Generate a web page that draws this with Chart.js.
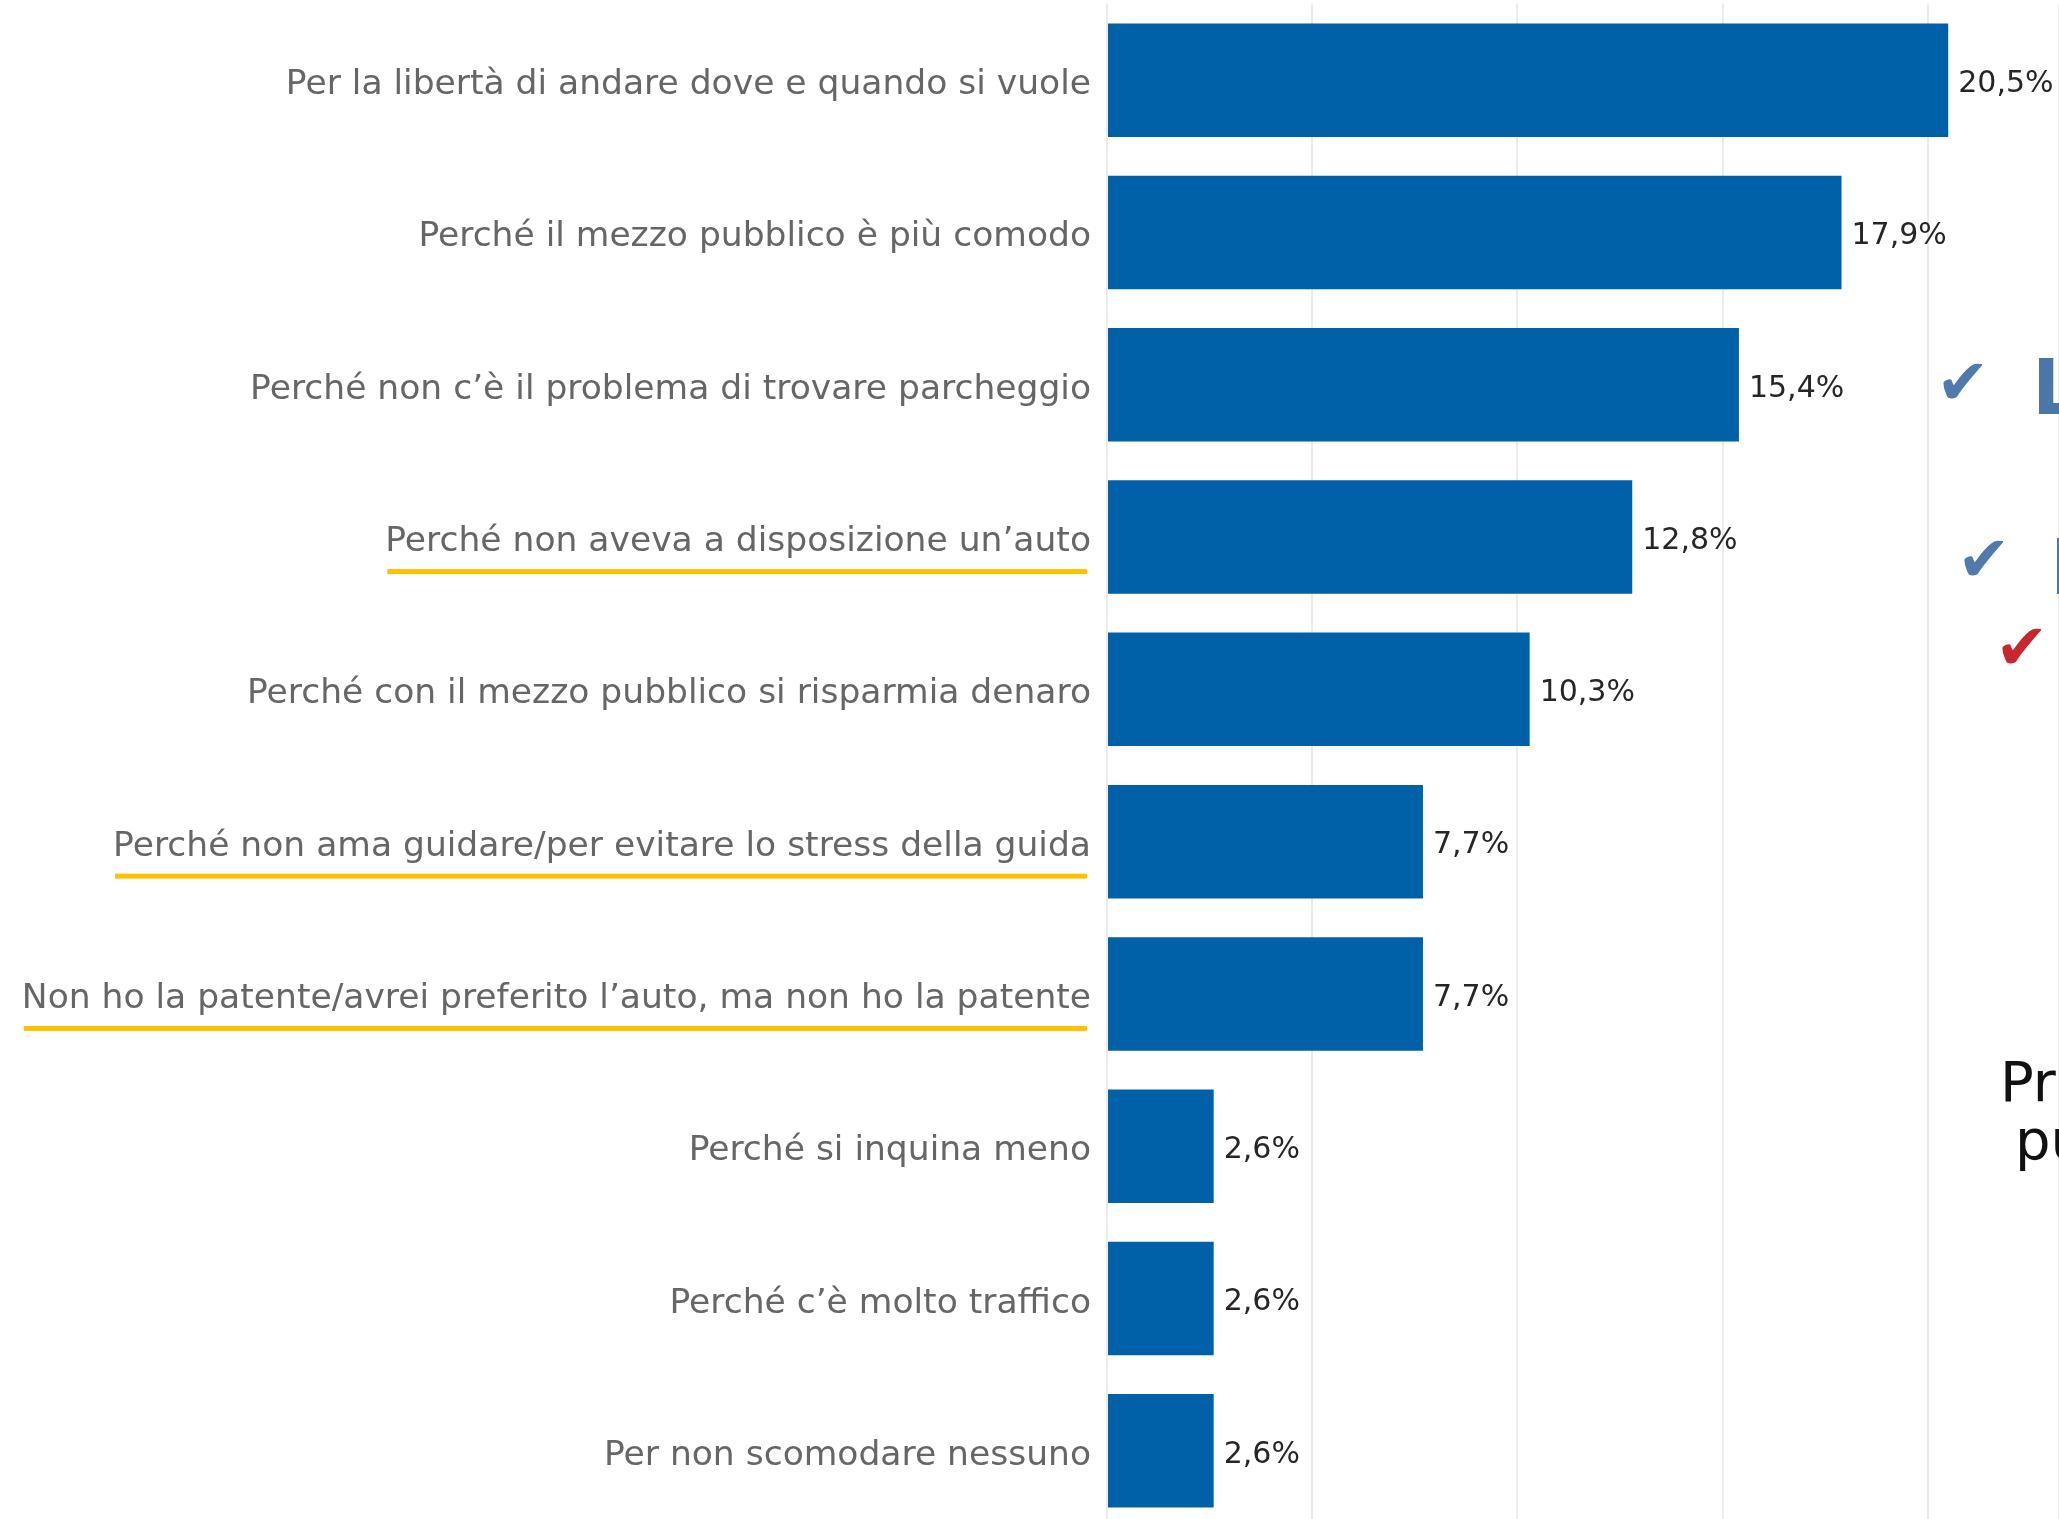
<!DOCTYPE html>
<html>
<head>
<meta charset="utf-8">
<script src="https://cdn.jsdelivr.net/npm/chart.js@4.4.0/dist/chart.umd.min.js"></script>
<style>
  html, body { margin: 0; padding: 0; background: #fff; overflow: hidden; }
  #wrap { position: relative; width: 2059px; height: 1527px; }
  .side { position: absolute; white-space: nowrap; line-height: 1; font-family: 'DejaVu Sans', sans-serif; }
</style>
</head>
<body>
<div id="wrap">
  <canvas id="motivi"></canvas>
  <div class="side" style="left:1936px; top:350px; font-size:64px; color:#4f7aab;">✔</div>
  <div class="side" style="left:2032px; top:350px; font-size:76px; font-weight:bold; color:#4a76a8;">L</div>
  <div class="side" style="left:1957px; top:527px; font-size:64px; color:#4f7aab;">✔</div>
  <div class="side" style="left:2050px; top:530px; font-size:76px; font-weight:bold; color:#4a76a8;">I</div>
  <div class="side" style="left:1995px; top:615px; font-size:64px; color:#c8282d;">✔</div>
  <div class="side" style="left:2000px; top:1054px; font-size:56px; color:#111;">Pri</div>
  <div class="side" style="left:2015px; top:1112px; font-size:56px; color:#111;">pu</div>
</div>
<script>
const categories = [
  'Per la libertà di andare dove e quando si vuole',
  'Perché il mezzo pubblico è più comodo',
  'Perché non c’è il problema di trovare parcheggio',
  'Perché non aveva a disposizione un’auto',
  'Perché con il mezzo pubblico si risparmia denaro',
  'Perché non ama guidare/per evitare lo stress della guida',
  'Non ho la patente/avrei preferito l’auto, ma non ho la patente',
  'Perché si inquina meno',
  'Perché c’è molto traffico',
  'Per non scomodare nessuno'
];
const values = [20.5, 17.9, 15.4, 12.8, 10.3, 7.7, 7.7, 2.6, 2.6, 2.6];
const highlighted = [false, false, false, true, false, true, true, false, false, false];

const labelFont = "34.5px 'DejaVu Sans', sans-serif";
const valueFont = "30px 'DejaVu Sans', sans-serif";
const canvas = document.getElementById('motivi');
canvas.width = 2059;
canvas.height = 1527;

// etichette categorie, percentuali sulle barre, sottolineatura gialla
const extras = {
  id: 'extras',
  afterDatasetsDraw(chart) {
    const ctx = chart.ctx;
    const meta = chart.getDatasetMeta(0);
    const yScale = chart.scales.y;
    const right = chart.chartArea.left - 16;
    ctx.save();
    ctx.textBaseline = 'middle';

    ctx.font = valueFont;
    ctx.fillStyle = '#262626';
    ctx.textAlign = 'left';
    meta.data.forEach(function (bar, i) {
      const txt = values[i].toFixed(1).replace('.', ',') + '%';
      ctx.fillText(txt, bar.x + 10, bar.y + 4);
    });

    ctx.font = labelFont;
    ctx.textAlign = 'right';
    categories.forEach(function (label, i) {
      const y = yScale.getPixelForValue(i);
      ctx.fillStyle = '#666666';
      ctx.fillText(label, right, y + 5);
      if (highlighted[i]) {
        const w = ctx.measureText(label).width;
        ctx.fillStyle = '#ffc000';
        ctx.fillRect(right - w + 2, y + 32, w - 6, 5);
      }
    });
    ctx.restore();
  }
};

new Chart(canvas, {
  type: 'bar',
  data: {
    labels: categories,
    datasets: [{
      data: values,
      backgroundColor: '#0061a8',
      borderWidth: 0,
      barPercentage: 0.745,
      categoryPercentage: 1
    }]
  },
  options: {
    indexAxis: 'y',
    responsive: false,
    animation: false,
    layout: { padding: { top: 4, right: 0, bottom: 0, left: 0 } },
    plugins: {
      legend: { display: false },
      tooltip: { enabled: false }
    },
    scales: {
      x: {
        min: 0,
        max: 23.2,
        ticks: { display: false, stepSize: 5 },
        grid: { color: '#ebebeb', lineWidth: 2, drawTicks: false },
        border: { display: false },
        afterFit: function (scale) { scale.height = 0; }
      },
      y: {
        ticks: { display: false },
        grid: { display: false, drawTicks: false },
        border: { display: false },
        afterFit: function (scale) {
          scale.width = 1107;
          scale.paddingTop = 0;
          scale.paddingBottom = 0;
        }
      }
    }
  },
  plugins: [extras]
});
</script>
</body>
</html>
